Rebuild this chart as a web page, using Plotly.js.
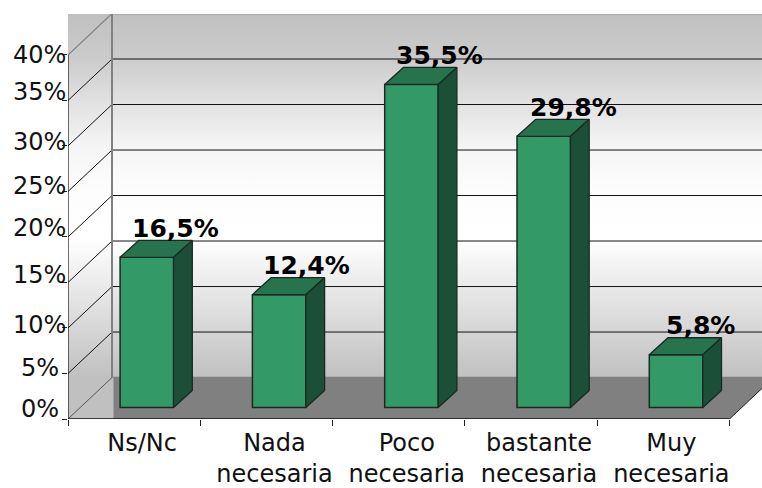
<!DOCTYPE html>
<html><head><meta charset="utf-8">
<script src="https://cdn.plot.ly/plotly-3.0.1.min.js"></script>
<style>html,body{margin:0;padding:0;background:#fff}#c{width:762px;height:488px}</style>
</head><body><div id="c"></div>
<script>
// ---- data ----
const categories = ["Ns/Nc", "Nada<br>necesaria", "Poco<br>necesaria", "bastante<br>necesaria", "Muy<br>necesaria"];
const values = [16.5, 12.4, 35.5, 29.8, 5.8];
const valueLabels = ["16,5%", "12,4%", "35,5%", "29,8%", "5,8%"];
const yTicks = [0, 5, 10, 15, 20, 25, 30, 35, 40];
const yTickLabels = ["0%", "5%", "10%", "15%", "20%", "25%", "30%", "35%", "40%"];

// ---- layout constants (pixels) ----
const W = 762, H = 488;
const L = 68, R = 729.5, B = 419.5, T40 = 55, TOP = 14;
const pxX = (R - L) / categories.length;
const pxY = (B - T40) / 40;
const xMin = -0.5, xMax = xMin + (W - L) / pxX;
const yMax = (B - TOP) / pxY;
const wallDx = 44 / pxX, wallDy = 41.5 / pxY;
const barDx = 18.7 / pxX, barDy = 17 / pxY;
const barOffX = 12.7 / pxX, barOffY = 11.5 / pxY;
const barW = 53.5 / pxX;
const FONT = '"DejaVu Sans", Verdana, sans-serif';
const front = '#339966', topC = '#26734d', sideC = '#1c4f37', edge = '#1a2a22';
const tickShiftY = [10, 5, 3.4, 7.8, 9.2, 5, 3.6, 8.4, 0];
const tickShiftX = [-7, -7, 0, 0, 0, 0, 0, 0, 0];
const valueShiftX = [9.5, 8.5, 9, 11.4, 14.7];

const wallScale = [[0,'#c0c0c0'],[0.38,'#ffffff'],[0.5,'#fdfdfd'],[0.626,'#f6f6f6'],[0.753,'#e2e2e2'],[0.88,'#cbcbcb'],[1,'#c0c0c0']];
const grad = {type:'vertical', colorscale:wallScale, start:wallDy, stop:yMax};

function poly(xs, ys, fill, extra, ax) {
  return Object.assign({type:'scatter', mode:'lines', x:xs, y:ys, fill:'toself', fillcolor:fill,
    line:{width:0, color:fill}, hoverinfo:'skip', showlegend:false, xaxis:ax?'x2':'x', yaxis:ax?'y2':'y'}, extra||{});
}
function line(xs, ys, color, width) {
  return {type:'scatter', mode:'lines', x:xs, y:ys, line:{color:color, width:width}, hoverinfo:'skip', showlegend:false};
}

const traces = [];
const bx = xMin + wallDx;
const xEnd = xMin + categories.length;
// floor
traces.push(poly([xMin, bx, xEnd + wallDx, xEnd], [0, wallDy, wallDy, 0], '#808080'));
// back wall
traces.push(poly([bx, xMax, xMax, bx], [wallDy, wallDy, yMax, yMax], '#ffffff', {fillgradient:grad}));
// left wall
const lwR = bx + 1.5 / pxX;
traces.push(poly([xMin, lwR, lwR, xMin], [0, 0, yMax, yMax], '#ffffff', {fillgradient:grad}));
// gridlines
yTicks.forEach(v => {
  if (v === 0 || v === 40) return;
  traces.push(line([xMin, bx, xMax], [v, v + wallDy, v + wallDy], '#111111', 1));
});
// outline of the walls
traces.push(line([xMin, bx], [40, 40 + wallDy], '#808080', 1.2));
traces.push(line([bx, xMax], [yMax - 0.05, yMax - 0.05], '#b0b0b0', 1.5));
traces.push(line([bx, bx], [wallDy, yMax], '#808080', 2));
traces.push(line([bx + 0.5 / pxX, xMax], [wallDy, wallDy], '#808080', 1.5));
traces.push(line([xMin, bx], [0, wallDy], '#555555', 1));
traces.push(line([xEnd, xMax], [0, (xMax - xEnd) * wallDy / wallDx], '#222222', 1));
traces.push(line([xMin, xMin], [0, 40], '#111111', 1.2));
traces.push(line([xMin, xEnd], [0, 0], '#111111', 1.4));

// bars: front faces through the library's bar trace, the depth faces from the same values
traces.push({type:'bar', x:categories.map((c,i)=>i), y:values, xaxis:'x2', yaxis:'y2', width:barW,
  marker:{color:front, line:{color:edge, width:1.5}}, hoverinfo:'skip', showlegend:false});
values.forEach((v,i) => {
  const a = i - barW/2, b = i + barW/2;
  traces.push(poly([a, a + barDx, b + barDx, b, a], [v, v + barDy, v + barDy, v, v], topC,
    {line:{color:edge, width:1.3}}, true));
  traces.push(poly([b, b + barDx, b + barDx, b, b], [0, barDy, v + barDy, v, 0], sideC,
    {line:{color:edge, width:1.3}}, true));
});

const annotations = [];
yTicks.forEach((v,i) => annotations.push({xref:'x', yref:'y', x:xMin, y:v, text:yTickLabels[i], showarrow:false,
  xanchor:'right', yanchor:'middle', xshift:tickShiftX[i], yshift:tickShiftY[i],
  font:{family:FONT, size:24, color:'#111'}}));
values.forEach((v,i) => annotations.push({xref:'x2', yref:'y2', x:i - barW/2, y:v, text:'<b>'+valueLabels[i]+'</b>', showarrow:false,
  xanchor:'left', yanchor:'middle', xshift:valueShiftX[i], yshift:29,
  font:{family:FONT, size:25, color:'#000'}}));

const layout = {
  width:W, height:H, showlegend:false, paper_bgcolor:'#fff', plot_bgcolor:'#fff',
  margin:{l:L, r:0, t:TOP, b:H - B, pad:0},
  xaxis:{type:'linear', range:[xMin, xMax], fixedrange:true, showgrid:false, zeroline:false, showline:false,
    tickmode:'array', tickvals:categories.map((c,i)=>i), ticktext:categories, ticks:'', ticklabelshift:8, ticklabelstandoff:7,
    ticklabeloverflow:'allow', tickfont:{family:FONT, size:24, color:'#111'},
    minor:{tickmode:'array', tickvals:[0,1,2,3,4,5].map(k=>xMin+k), ticks:'outside', ticklen:6, tickwidth:1, tickcolor:'#222', showgrid:false}},
  yaxis:{type:'linear', range:[0, yMax], fixedrange:true, showgrid:false, zeroline:false, showline:false,
    tickmode:'array', tickvals:yTicks, ticktext:yTickLabels, showticklabels:false, ticks:'outside', ticklen:5, tickwidth:1, tickcolor:'#222'},
  xaxis2:{type:'linear', overlaying:'x', range:[xMin - barOffX, xMax - barOffX], visible:false, fixedrange:true},
  yaxis2:{type:'linear', overlaying:'y', range:[-barOffY, yMax - barOffY], visible:false, fixedrange:true},
  annotations:annotations
};
Plotly.newPlot('c', traces, layout, {staticPlot:true, displayModeBar:false});
</script></body></html>
